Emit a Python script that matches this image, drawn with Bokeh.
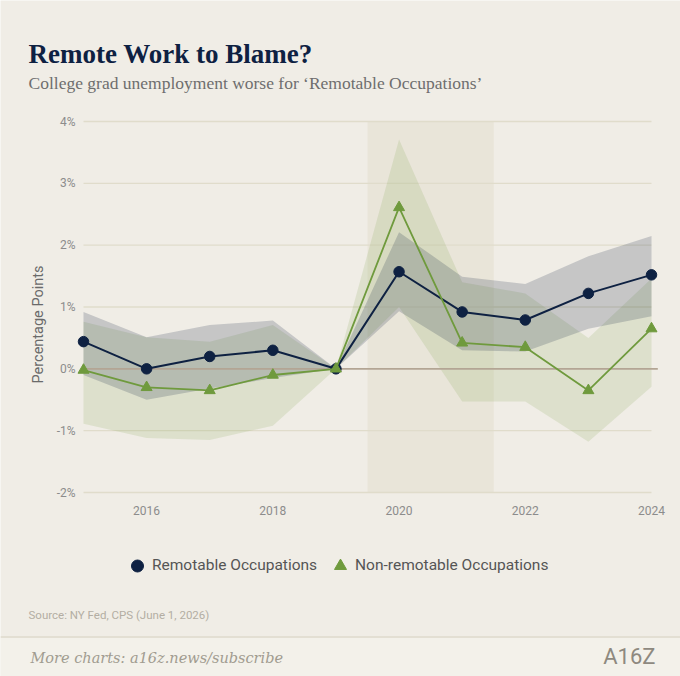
import math
from bokeh.plotting import figure
from bokeh.models import (Range1d, FixedTicker, CustomJSTickFormatter, Label, Legend,
                          LegendItem, Span, BoxAnnotation)
from bokeh.embed import file_html
from bokeh.resources import INLINE

# ---------------- data ----------------
years = [2015, 2016, 2017, 2018, 2019, 2020, 2021, 2022, 2023, 2024]

remotable = [0.44, 0.00, 0.20, 0.30, 0.00, 1.57, 0.92, 0.79, 1.22, 1.52]
remotable_hi = [0.92, 0.51, 0.71, 0.78, 0.00, 2.21, 1.49, 1.37, 1.82, 2.15]
remotable_lo = [-0.10, -0.50, -0.32, -0.15, 0.00, 0.93, 0.30, 0.28, 0.65, 0.85]

non_remotable = [-0.02, -0.30, -0.35, -0.10, 0.00, 2.61, 0.42, 0.35, -0.35, 0.65]
non_remotable_hi = [0.76, 0.51, 0.44, 0.71, 0.00, 3.71, 1.40, 1.22, 0.50, 1.46]
non_remotable_lo = [-0.89, -1.12, -1.15, -0.92, 0.00, 1.00, -0.53, -0.53, -1.18, -0.29]

x_ticks = [2016, 2018, 2020, 2022, 2024]
y_ticks = [-2, -1, 0, 1, 2, 3, 4]
recession = [2019.5, 2021.5]

# ---------------- page geometry (pixels -> data space) ----------------
W, H = 680, 676
PX_YEAR = 568 / 9.0          # pixels per year
PX_PCT = 371 / 6.0           # pixels per percentage point
X_LEFT = years[0] - 83 / PX_YEAR      # data x at the page's left edge
Y_TOP = y_ticks[-1] + 121 / PX_PCT    # data y at the page's top edge


def xd(px):
    return X_LEFT + px / PX_YEAR


def yd(py):
    return Y_TOP - py / PX_PCT


BG = "#f0ede6"
FOOT = "#f3f1ea"
NAVY = "#0e2142"
GREEN = "#6f9a3d"
TICK = "#8c8c8c"

p = figure(width=W, height=H, output_backend="svg", toolbar_location=None,
           x_range=Range1d(xd(0), xd(W)), y_range=Range1d(yd(H), yd(0)),
           min_border_left=0, min_border_right=0, min_border_top=0, min_border_bottom=0,
           background_fill_color=BG, border_fill_color=BG, outline_line_color=None)
p.grid.visible = False

# footer band
p.add_layout(BoxAnnotation(left=xd(0), right=xd(W), bottom=yd(H), top=yd(636),
                           fill_color=FOOT, fill_alpha=1, line_color=None))
p.add_layout(Span(location=yd(636.5), dimension="width", line_color="#e3dfd3", line_width=2))

# recession shading
p.quad(left=[recession[0]], right=[recession[1]], bottom=[y_ticks[0]], top=[y_ticks[-1]],
       fill_color="#e9e5d9", line_color=None)

# gridlines (non-zero)
grid_y = [t for t in y_ticks if t != 0]
p.segment(x0=[years[0]] * len(grid_y), x1=[years[-1]] * len(grid_y), y0=grid_y, y1=grid_y,
          line_color="#e0dccb", line_width=1.3)

# confidence bands
p.varea(x=years, y1=non_remotable_lo, y2=non_remotable_hi, fill_color=GREEN, fill_alpha=0.15)
p.varea(x=years, y1=remotable_lo, y2=remotable_hi, fill_color=NAVY, fill_alpha=0.19)

# zero line
p.segment(x0=[years[0]], x1=[years[-1] + 0.1], y0=[0], y1=[0], line_color="#b3a594", line_width=1.6)

# series
p.line(years, remotable, line_color=NAVY, line_width=2)
r_circ = p.scatter(years, remotable, marker="circle", size=10.5, fill_color=NAVY, line_color=NAVY)
p.line(years, non_remotable, line_color=GREEN, line_width=1.8)
r_tri = p.scatter(years, non_remotable, marker="triangle", size=11, fill_color=GREEN, line_color=GREEN)

# axes (kept in their side panels, drawn at fixed data locations)
p.xaxis.ticker = FixedTicker(ticks=x_ticks)
p.yaxis.ticker = FixedTicker(ticks=y_ticks)
p.yaxis.formatter = CustomJSTickFormatter(code="return tick.toFixed(0) + '%';")
p.xaxis.fixed_location = yd(495)
p.yaxis.fixed_location = xd(75)
for ax in (p.xaxis, p.yaxis):
    ax.axis_line_color = None
    ax.major_tick_line_color = None
    ax.minor_tick_line_color = None
    ax.major_tick_out = 0
    ax.major_tick_in = 0
    ax.major_label_text_font = "Roboto"
    ax.major_label_text_font_size = "12px"
    ax.major_label_text_color = TICK
p.xaxis.major_label_standoff = 10
p.yaxis.major_label_standoff = 0

# texts
p.add_layout(Label(x=xd(28), y=yd(53), text="Remote Work to Blame?", text_font="Liberation Serif",
                   text_font_style="bold", text_font_size="27px", text_color=NAVY,
                   text_align="left", text_baseline="alphabetic"))
p.add_layout(Label(x=xd(28), y=yd(82),
                   text="College grad unemployment worse for \u2018Remotable Occupations\u2019",
                   text_font="Liberation Serif", text_font_size="17.5px", text_color="#6e6e6e",
                   text_align="left", text_baseline="alphabetic"))
p.add_layout(Label(x=xd(38), y=yd(324), angle=math.pi / 2,
                   text="Percentage Points", text_font="Roboto", text_font_size="14.5px",
                   text_color="#6a6a6a", text_align="center", text_baseline="middle"))
p.add_layout(Label(x=xd(28), y=yd(614), text="Source: NY Fed, CPS (June 1, 2026)", text_font="Roboto",
                   text_font_size="11.5px", text_color="#b3aea3",
                   text_align="left", text_baseline="middle"))
p.add_layout(Label(x=xd(30), y=yd(657), text="More charts: a16z.news/subscribe",
                   text_font="DejaVu Serif", text_font_style="italic", text_font_size="14.5px",
                   text_color="#a19c90", text_align="left", text_baseline="middle"))
p.add_layout(Label(x=xd(655), y=yd(656), text="A16Z", text_font="Roboto", text_font_size="22px",
                   text_color="#8e897f", text_align="right", text_baseline="middle"))

legend = Legend(items=[LegendItem(label="Remotable Occupations", renderers=[r_circ]),
                       LegendItem(label="Non-remotable Occupations", renderers=[r_tri])],
                location=(122, H - 582.5), orientation="horizontal",
                glyph_width=30, glyph_height=35, label_standoff=0, spacing=8,
                padding=0, margin=0, background_fill_alpha=0, border_line_color=None,
                label_text_font="Roboto", label_text_font_size="15.5px",
                label_text_color="#555555")
p.add_layout(legend)

open("out.html", "w").write(file_html(p, INLINE))
